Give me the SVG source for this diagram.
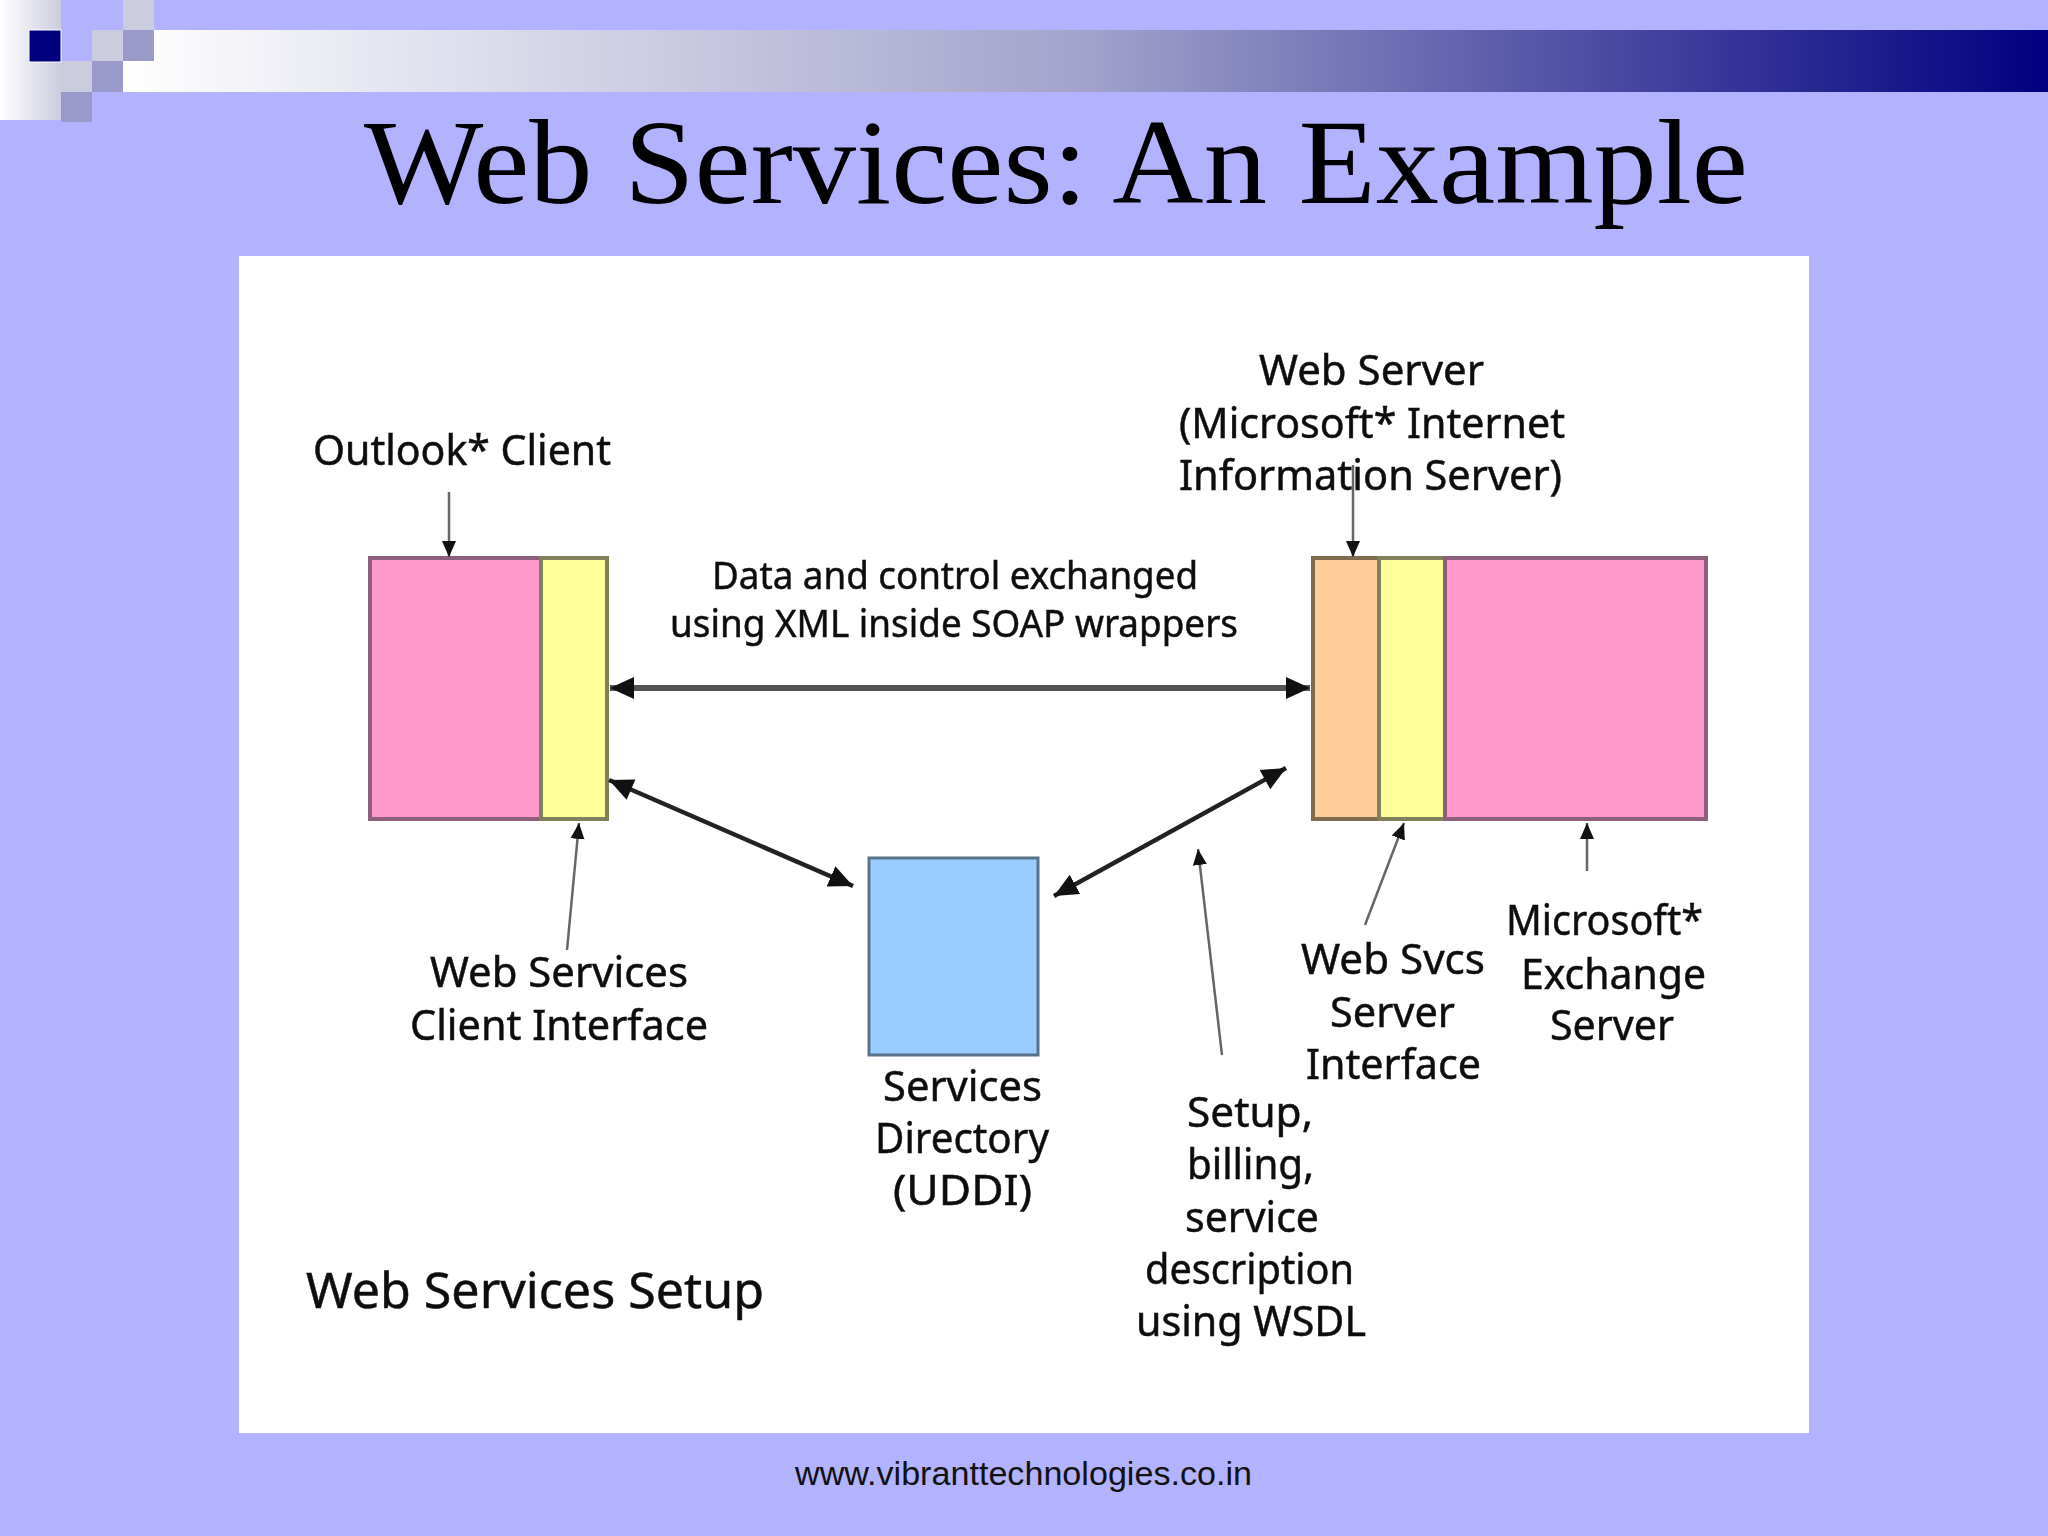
<svg xmlns="http://www.w3.org/2000/svg" width="2048" height="1536" viewBox="0 0 2048 1536">
<style>
.t{font-family:"Noto Sans","DejaVu Sans",sans-serif;font-size:41px;fill:#111;stroke:#111;stroke-width:.5;filter:url(#soft)}
.box{stroke-width:4}
.pink{fill:#ff99cc;stroke:#8c5f7c}
.yellow{fill:#ffff99;stroke:#80805a}
.orange{fill:#ffcc99;stroke:#806a50}
.thin{fill:none;stroke:#666;stroke-width:2.5;marker-end:url(#hs)}
.dbl{fill:none;stroke:#222;stroke-width:4.5;marker-start:url(#hbs);marker-end:url(#hb)}
</style>
<defs>
<filter id="soft" x="-5%" y="-20%" width="110%" height="140%"><feGaussianBlur stdDeviation="0.7"/></filter>
<linearGradient id="band"><stop offset="0" stop-color="#fff"/><stop offset="0.5" stop-color="#a2a2cc"/><stop offset="1" stop-color="#000080"/></linearGradient>
<linearGradient id="corner"><stop offset="0" stop-color="#fff"/><stop offset="1" stop-color="#ccccdf"/></linearGradient>
<marker id="hs" markerUnits="userSpaceOnUse" markerWidth="18" markerHeight="16" refX="16" refY="8" orient="auto"><path d="M0 1L16 8L0 15z" fill="#111"/></marker>
<marker id="hb" markerUnits="userSpaceOnUse" markerWidth="26" markerHeight="26" refX="24" refY="13" orient="auto"><path d="M0 2L24 13L0 24z" fill="#111"/></marker>
<marker id="hbs" markerUnits="userSpaceOnUse" markerWidth="26" markerHeight="26" refX="0" refY="13" orient="auto"><path d="M24 2L0 13L24 24z" fill="#111"/></marker>
</defs>
<rect width="2048" height="1536" fill="#b2b2ff"/>
<g id="banner">
<rect x="123" y="30" width="1925" height="62" fill="url(#band)"/>
<rect x="0" y="0" width="61" height="120" fill="url(#corner)"/>
<rect x="61" y="61" width="31" height="31" fill="#ccccdf"/>
<rect x="61" y="0" width="62" height="61" fill="#b2b2ff"/>
<rect x="123" y="0" width="31" height="30" fill="#ccccdf"/>
<rect x="92" y="30" width="31" height="31" fill="#ccccdf"/>
<rect x="123" y="30" width="31" height="31" fill="#9999cc"/>
<rect x="92" y="61" width="31" height="31" fill="#9999cc"/>
<rect x="61" y="92" width="31" height="30" fill="#9999cc"/>
<rect x="29" y="30" width="32" height="32" fill="#000080" stroke="#fff" stroke-width="1"/>
</g>
<text id="title" x="1056" y="203" text-anchor="middle" font-family="'Liberation Serif',serif" font-size="120" textLength="1384" lengthAdjust="spacingAndGlyphs" fill="#000">Web Services: An Example</text>
<rect id="panel" x="239" y="256" width="1570" height="1177" fill="#fff"/>
<g id="outlook-client">
<rect class="box pink" x="370" y="558" width="171" height="261"/>
<rect class="box yellow" x="541" y="558" width="66" height="261"/>
</g>
<g id="web-server">
<rect class="box orange" x="1313" y="558" width="66" height="261"/>
<rect class="box yellow" x="1379" y="558" width="66" height="261"/>
<rect class="box pink" x="1445" y="558" width="261" height="261"/>
</g>
<g id="services-directory">
<rect x="869" y="858" width="169" height="197" fill="#99ccff" stroke="#5a7288" stroke-width="3"/>
</g>
<g id="connectors">
<line x1="610" y1="688" x2="1310" y2="688" fill="none" stroke="#555" stroke-width="6" marker-start="url(#hbs)" marker-end="url(#hb)"/>
<line class="dbl" x1="609" y1="780" x2="853" y2="886"/>
<line class="dbl" x1="1286" y1="768" x2="1054" y2="896"/>
<line class="thin" x1="449" y1="492" x2="449" y2="557"/>
<line class="thin" x1="567" y1="950" x2="579" y2="823"/>
<line class="thin" x1="1353" y1="465" x2="1353" y2="557"/>
<line class="thin" x1="1365" y1="925" x2="1404" y2="823"/>
<line class="thin" x1="1587" y1="871" x2="1587" y2="823"/>
<line class="thin" x1="1222" y1="1055" x2="1198" y2="849"/>
</g>
<g id="labels">
<text class="t" x="313" y="465" textLength="298" lengthAdjust="spacingAndGlyphs">Outlook* Client</text>
<text class="t" x="1259" y="385" textLength="225" lengthAdjust="spacingAndGlyphs">Web Server</text>
<text class="t" x="1179" y="438" textLength="386" lengthAdjust="spacingAndGlyphs">(Microsoft* Internet</text>
<text class="t" x="1179" y="490" textLength="383" lengthAdjust="spacingAndGlyphs">Information Server)</text>
<text class="t" x="712" y="589" textLength="486" lengthAdjust="spacingAndGlyphs" style="font-size:38px">Data and control exchanged</text>
<text class="t" x="670" y="637" textLength="568" lengthAdjust="spacingAndGlyphs" style="font-size:38px">using XML inside SOAP wrappers</text>
<text class="t" x="430" y="987" textLength="258" lengthAdjust="spacingAndGlyphs">Web Services</text>
<text class="t" x="410" y="1040" textLength="298" lengthAdjust="spacingAndGlyphs">Client Interface</text>
<text class="t" x="883" y="1101" textLength="159" lengthAdjust="spacingAndGlyphs">Services</text>
<text class="t" x="875" y="1153" textLength="174" lengthAdjust="spacingAndGlyphs">Directory</text>
<text class="t" x="893" y="1205" textLength="139" lengthAdjust="spacingAndGlyphs">(UDDI)</text>
<text class="t" x="1301" y="974" textLength="184" lengthAdjust="spacingAndGlyphs">Web Svcs</text>
<text class="t" x="1330" y="1027" textLength="125" lengthAdjust="spacingAndGlyphs">Server</text>
<text class="t" x="1306" y="1079" textLength="175" lengthAdjust="spacingAndGlyphs">Interface</text>
<text class="t" x="1506" y="935" textLength="197" lengthAdjust="spacingAndGlyphs">Microsoft*</text>
<text class="t" x="1521" y="989" textLength="185" lengthAdjust="spacingAndGlyphs">Exchange</text>
<text class="t" x="1550" y="1040" textLength="124" lengthAdjust="spacingAndGlyphs">Server</text>
<text class="t" x="1187" y="1127" textLength="126" lengthAdjust="spacingAndGlyphs">Setup,</text>
<text class="t" x="1187" y="1179" textLength="127" lengthAdjust="spacingAndGlyphs">billing,</text>
<text class="t" x="1185" y="1232" textLength="134" lengthAdjust="spacingAndGlyphs">service</text>
<text class="t" x="1145" y="1284" textLength="209" lengthAdjust="spacingAndGlyphs">description</text>
<text class="t" x="1136" y="1336" textLength="230" lengthAdjust="spacingAndGlyphs">using WSDL</text>
<text class="t" x="306" y="1308" textLength="458" lengthAdjust="spacingAndGlyphs" style="font-size:50px">Web Services Setup</text>
</g>
<text id="footer" x="795" y="1485" font-family="'Liberation Sans',sans-serif" font-size="34" textLength="457" lengthAdjust="spacingAndGlyphs" fill="#111">www.vibranttechnologies.co.in</text>
</svg>
